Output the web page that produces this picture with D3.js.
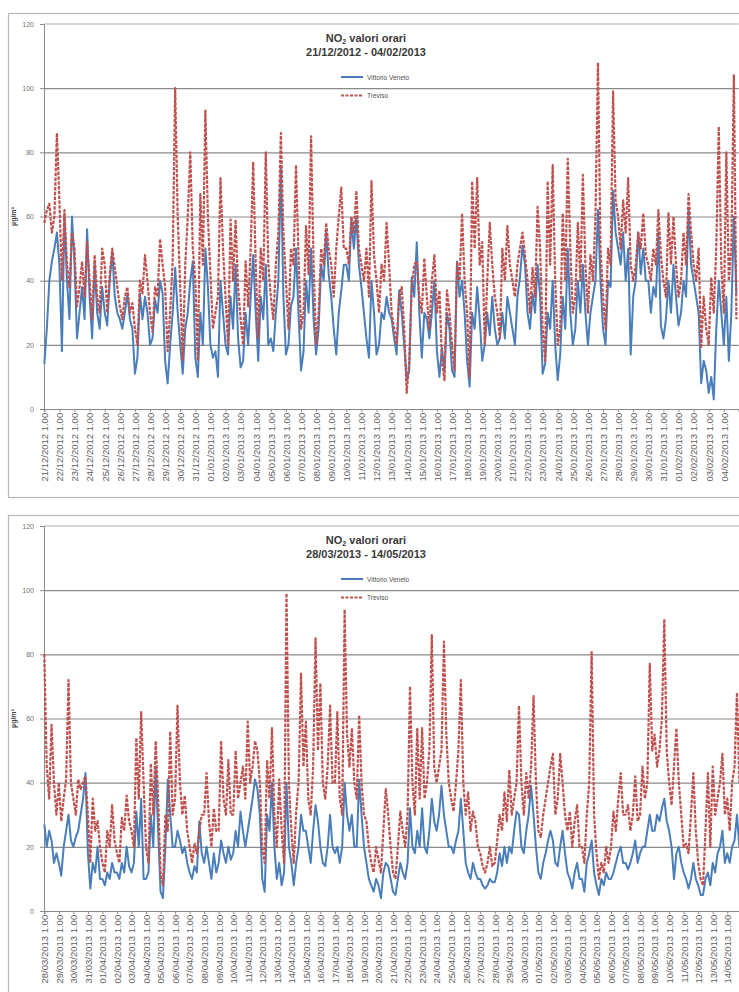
<!DOCTYPE html>
<html>
<head>
<meta charset="utf-8">
<script src="https://cdn.jsdelivr.net/npm/d3@7"></script>
<style>
body { margin: 0; background: #fff; }
svg { display: block; font-family: "Liberation Sans", Arial, sans-serif; }
</style>
</head>
<body>
<svg id="chart" width="739" height="992"></svg>
<script>
// hourly NO2 readings, sampled every 4 hours (1.00, 5.00, 9.00, 13.00, 17.00, 21.00)
var datesTop = ["21/12/2012", "22/12/2012", "23/12/2012", "24/12/2012", "25/12/2012", "26/12/2012",
    "27/12/2012", "28/12/2012", "29/12/2012", "30/12/2012", "31/12/2012", "01/01/2013", "02/01/2013",
    "03/01/2013", "04/01/2013", "05/01/2013", "06/01/2013", "07/01/2013", "08/01/2013", "09/01/2013",
    "10/01/2013", "11/01/2013", "12/01/2013", "13/01/2013", "14/01/2013", "15/01/2013", "16/01/2013",
    "17/01/2013", "18/01/2013", "19/01/2013", "20/01/2013", "21/01/2013", "22/01/2013", "23/01/2013",
    "24/01/2013", "25/01/2013", "26/01/2013", "27/01/2013", "28/01/2013", "29/01/2013", "30/01/2013",
    "31/01/2013", "01/02/2013", "02/02/2013", "03/02/2013", "04/02/2013"];

var vittorioTop = [
    14, 25, 40, 46, 50, 55, 45, 18, 60, 40, 28, 60, 45, 22, 30, 38, 28, 56,
    35, 22, 45, 30, 25, 38, 30, 26, 40, 49, 35, 30, 28, 25, 30, 36, 28, 25,
    11, 16, 36, 28, 35, 30, 20, 22, 34, 30, 40, 36, 15, 8, 20, 30, 44, 30,
    20, 11, 25, 30, 40, 46, 16, 10, 30, 20, 50, 38, 20, 16, 18, 10, 40, 30,
    20, 17, 35, 25, 45, 22, 13, 15, 30, 20, 35, 48, 30, 15, 35, 28, 45, 20,
    22, 18, 30, 40, 75, 35, 17, 20, 32, 35, 50, 30, 12, 18, 40, 30, 50, 28,
    17, 25, 45, 40, 55, 42, 35, 25, 17, 30, 37, 45, 45, 40, 59, 50, 60, 45,
    38, 30, 22, 16, 40, 30, 17, 20, 30, 28, 35, 30, 28, 22, 17, 37, 30, 20,
    9, 12, 41, 35, 52, 30, 16, 30, 28, 22, 30, 40, 18, 10, 19, 12, 30, 25,
    12, 10, 46, 35, 40, 30, 15, 7, 30, 25, 38, 28, 15, 20, 30, 23, 35, 25,
    20, 22, 30, 22, 35, 30, 25, 20, 35, 41, 51, 45, 30, 25, 36, 30, 45, 35,
    11, 14, 30, 25, 40, 20, 9, 17, 35, 25, 50, 30, 20, 25, 40, 30, 45, 30,
    20, 30, 35, 40, 62, 40, 25, 20, 40, 38, 68, 55, 50, 45, 55, 40, 50, 17,
    35, 40, 55, 42, 50, 40, 40, 30, 38, 35, 55, 26, 22, 28, 40, 30, 45, 35,
    26, 30, 40, 35, 62, 45, 40, 35, 30, 8, 15, 12, 5, 10, 3, 25, 40, 30,
    20, 35, 15, 30, 60, 36];

var trevisoTop = [
    58, 62, 64, 55, 60, 86, 65, 40, 62, 45, 38, 55, 50, 32, 38, 46, 35, 52,
    40, 28, 48, 35, 30, 50, 45, 30, 42, 50, 44, 38, 32, 28, 35, 38, 30, 33,
    25, 20, 40, 36, 48, 40, 30, 24, 38, 35, 53, 45, 38, 18, 30, 46, 100, 60,
    38, 15, 45, 60, 80, 50, 40, 15, 67, 45, 93, 60, 42, 25, 30, 35, 72, 50,
    35, 20, 59, 40, 59, 38, 28, 20, 46, 32, 50, 77, 45, 22, 50, 40, 80, 45,
    35, 28, 45, 55, 86, 55, 40, 25, 50, 45, 76, 48, 25, 30, 57, 42, 85, 45,
    20, 30, 50, 45, 58, 50, 45, 35, 50, 60, 69, 50, 50, 45, 60, 55, 68, 50,
    45, 40, 50, 35, 71, 48, 40, 30, 45, 40, 58, 45, 30, 25, 20, 35, 38, 25,
    5, 15, 38, 45, 46, 35, 30, 47, 35, 25, 40, 48, 30, 37, 15, 9, 37, 30,
    20, 12, 46, 40, 61, 40, 30, 10, 71, 50, 72, 45, 52, 20, 40, 58, 45, 35,
    30, 22, 50, 40, 57, 45, 40, 35, 45, 50, 55, 48, 40, 30, 44, 35, 63, 50,
    25, 15, 71, 45, 76, 40, 20, 25, 61, 40, 78, 50, 30, 35, 58, 40, 73, 45,
    30, 48, 40, 60, 108, 50, 35, 25, 50, 45, 99, 65, 60, 50, 65, 55, 72, 45,
    40, 45, 55, 50, 61, 48, 45, 40, 50, 45, 62, 48, 40, 35, 61, 45, 60, 45,
    35, 40, 55, 45, 67, 55, 45, 40, 50, 19, 35, 25, 20, 41, 30, 50, 88, 45,
    30, 80, 40, 50, 104, 28];

var datesBottom = ["28/03/2013", "29/03/2013", "30/03/2013", "31/03/2013", "01/04/2013", "02/04/2013",
    "03/04/2013", "04/04/2013", "05/04/2013", "06/04/2013", "07/04/2013", "08/04/2013", "09/04/2013",
    "10/04/2013", "11/04/2013", "12/04/2013", "13/04/2013", "14/04/2013", "15/04/2013", "16/04/2013",
    "17/04/2013", "18/04/2013", "19/04/2013", "20/04/2013", "21/04/2013", "22/04/2013", "23/04/2013",
    "24/04/2013", "25/04/2013", "26/04/2013", "27/04/2013", "28/04/2013", "29/04/2013", "30/04/2013",
    "01/05/2013", "02/05/2013", "03/05/2013", "04/05/2013", "05/05/2013", "06/05/2013", "07/05/2013",
    "08/05/2013", "09/05/2013", "10/05/2013", "11/05/2013", "12/05/2013", "13/05/2013", "14/05/2013"];

var vittorioBottom = [
    27, 20, 25, 22, 15, 18, 15, 11, 20, 25, 30, 22, 20, 23, 25, 30, 35, 43,
    18, 7, 15, 12, 20, 10, 10, 8, 12, 10, 15, 12, 12, 10, 15, 12, 20, 14,
    12, 15, 31, 20, 35, 10, 10, 12, 30, 20, 45, 25, 6, 4, 20, 41, 30, 20,
    20, 25, 22, 18, 20, 15, 12, 10, 14, 12, 28, 18, 15, 20, 15, 10, 18, 12,
    15, 22, 18, 15, 20, 16, 18, 25, 20, 31, 25, 20, 25, 30, 35, 41, 38, 30,
    10, 6, 30, 25, 40, 20, 10, 15, 8, 12, 40, 20, 15, 8, 15, 20, 30, 25,
    25, 20, 15, 25, 33, 28, 20, 15, 14, 20, 30, 20, 18, 20, 15, 20, 40, 30,
    25, 30, 20, 20, 41, 30, 20, 15, 10, 8, 6, 10, 8, 4, 12, 15, 14, 10,
    6, 5, 10, 15, 12, 10, 15, 32, 20, 18, 25, 20, 32, 20, 18, 25, 35, 28,
    25, 30, 39, 30, 25, 20, 20, 18, 22, 25, 35, 25, 15, 12, 10, 15, 12, 10,
    10, 8, 7, 8, 10, 9, 9, 12, 18, 14, 20, 15, 20, 18, 25, 31, 30, 20,
    18, 25, 30, 39, 30, 20, 12, 10, 15, 18, 22, 25, 22, 15, 14, 20, 25, 18,
    12, 10, 7, 12, 15, 10, 10, 6, 15, 18, 22, 12, 8, 5, 10, 8, 12, 10,
    10, 12, 15, 18, 20, 15, 15, 13, 15, 18, 22, 15, 18, 20, 20, 25, 30, 25,
    25, 30, 28, 32, 35, 28, 25, 20, 10, 18, 20, 15, 12, 10, 7, 10, 15, 10,
    8, 5, 5, 10, 12, 8, 15, 12, 18, 20, 25, 15, 18, 15, 20, 22, 30, 20];

var trevisoBottom = [
    80, 45, 35, 58, 40, 30, 40, 28, 35, 41, 72, 40, 35, 30, 41, 38, 40, 42,
    30, 15, 35, 25, 28, 20, 15, 12, 25, 20, 33, 22, 18, 15, 29, 25, 36, 28,
    25, 20, 54, 35, 62, 40, 20, 15, 46, 30, 53, 35, 12, 8, 30, 25, 56, 30,
    35, 64, 40, 30, 36, 25, 20, 15, 21, 18, 25, 30, 30, 43, 28, 20, 32, 25,
    25, 53, 35, 30, 47, 30, 30, 50, 35, 40, 45, 35, 59, 40, 45, 53, 50, 40,
    20, 15, 47, 35, 57, 30, 20, 41, 25, 15, 99, 40, 25, 15, 31, 40, 74, 45,
    59, 35, 30, 45, 85, 50, 71, 40, 35, 45, 64, 40, 40, 62, 35, 30, 94, 55,
    45, 57, 40, 35, 61, 40, 30, 28, 20, 15, 12, 20, 16, 12, 25, 38, 30, 20,
    12, 10, 20, 31, 25, 20, 30, 70, 40, 30, 57, 35, 57, 35, 40, 50, 86, 45,
    40, 45, 50, 84, 55, 40, 35, 31, 40, 50, 72, 40, 30, 37, 25, 31, 28, 20,
    18, 14, 12, 15, 20, 14, 15, 22, 30, 25, 37, 28, 44, 30, 35, 40, 64, 40,
    30, 43, 35, 45, 67, 40, 25, 23, 30, 35, 40, 45, 49, 30, 35, 49, 40, 30,
    25, 31, 20, 28, 33, 20, 20, 15, 30, 40, 81, 30, 18, 10, 15, 12, 20, 15,
    20, 31, 25, 35, 43, 30, 30, 33, 25, 30, 42, 28, 30, 45, 35, 40, 77, 50,
    55, 45, 50, 60, 91, 50, 40, 33, 45, 57, 40, 30, 20, 21, 18, 30, 43, 25,
    15, 10, 8, 25, 43, 20, 45, 30, 35, 40, 49, 30, 35, 25, 40, 45, 68, 40];

var yTicks = [0, 20, 40, 60, 80, 100, 120];
var seriesNames = ["Vittorio Veneto", "Treviso"];
var blue = "#4a7ebb";
var red = "#c0504d";
var hoursPerSample = 4;
var plotLeft = 44;

var svg = d3.select("#chart");

function drawPanel(panel) {
    var g = svg.append("g");
    var hours = panel.dates.length * 24;

    var xScale = d3.scaleLinear().domain([0, hours]).range([plotLeft, panel.plotRight]);
    var yScale = d3.scaleLinear().domain([0, 120]).range([panel.plotBottom, panel.plotTop]);

    // outer chart border
    g.append("rect")
        .attr("x", 8.5)
        .attr("y", panel.boxTop + 0.5)
        .attr("width", 780)
        .attr("height", panel.boxBottom - panel.boxTop)
        .attr("fill", "#fff")
        .attr("stroke", "#b8b8b8")
        .attr("stroke-width", 1.2);

    // horizontal gridlines
    g.append("g")
        .attr("class", "grid")
        .attr("transform", "translate(" + plotLeft + ",0)")
        .call(d3.axisLeft(yScale).tickValues([20, 40, 60, 80, 100])
            .tickSize(-(panel.plotRight - plotLeft))
            .tickFormat(""))
        .call(function (s) {
            s.select(".domain").remove();
            s.selectAll("line").attr("stroke", "#8a8a8a").attr("stroke-width", 1.2);
        });

    g.append("line")
        .attr("x1", plotLeft).attr("x2", panel.plotRight)
        .attr("y1", yScale(120)).attr("y2", yScale(120))
        .attr("stroke", "#d4d4d4")
        .attr("stroke-width", 2);

    // y axis
    g.append("g")
        .attr("class", "y axis")
        .attr("transform", "translate(" + plotLeft + ",0)")
        .call(d3.axisLeft(yScale).tickValues(yTicks).tickSize(4).tickPadding(6))
        .call(function (s) {
            s.select(".domain").attr("stroke", "#8a8a8a");
            s.selectAll("line").attr("stroke", "#8a8a8a");
            s.selectAll("text")
                .attr("fill", "#707070")
                .style("font-size", "7px");
        });

    g.append("text")
        .attr("transform", "translate(16," + ((panel.plotTop + panel.plotBottom) / 2) + ") rotate(-90)")
        .attr("text-anchor", "middle")
        .attr("fill", "#404040")
        .style("font-size", "7px")
        .style("font-weight", "bold")
        .text("µg/m³");

    // x axis, one label per day at 1.00
    var dayStarts = panel.dates.map(function (d, i) {
        return i * 24 + 0.5;
    });

    g.append("g")
        .attr("class", "x axis")
        .attr("transform", "translate(0," + panel.plotBottom + ")")
        .call(d3.axisBottom(xScale).tickValues(dayStarts).tickSize(3)
            .tickFormat(function (d, i) {
                return panel.dates[i] + " 1.00";
            }))
        .call(function (s) {
            s.select(".domain").attr("stroke", "#8a8a8a").attr("stroke-width", 1.2);
            s.selectAll("line").attr("stroke", "#8a8a8a");
            s.selectAll("text")
                .attr("fill", "#606060")
                .style("font-size", "9.5px")
                .style("text-anchor", "end")
                .attr("x", 0)
                .attr("y", 0)
                .attr("dx", "-0.4em")
                .attr("dy", "0.35em")
                .attr("transform", "rotate(-90)");
        });

    // series
    var line = d3.line()
        .x(function (d, i) {
            return xScale(i * hoursPerSample + 0.5);
        })
        .y(function (d) {
            return yScale(d);
        });

    g.append("path")
        .datum(panel.vittorio)
        .attr("d", line)
        .attr("fill", "none")
        .attr("stroke", blue)
        .attr("stroke-width", 2)
        .attr("stroke-linejoin", "round");

    g.append("path")
        .datum(panel.treviso)
        .attr("d", line)
        .attr("fill", "none")
        .attr("stroke", red)
        .attr("stroke-width", 2.2)
        .attr("stroke-dasharray", "3.5,1.3")
        .attr("stroke-linejoin", "round");

    // title
    var cx = 366;
    var title = g.append("text")
        .attr("x", cx)
        .attr("y", panel.plotTop + 18)
        .attr("text-anchor", "middle")
        .attr("fill", "#3a3a3a")
        .style("font-size", "11px")
        .style("font-weight", "bold");
    title.append("tspan").text("NO");
    title.append("tspan").style("font-size", "7px").attr("dy", 2).text("2");
    title.append("tspan").attr("dy", -2).text(" valori orari");

    g.append("text")
        .attr("x", cx)
        .attr("y", panel.plotTop + 32)
        .attr("text-anchor", "middle")
        .attr("fill", "#3a3a3a")
        .style("font-size", "11px")
        .style("font-weight", "bold")
        .text(panel.dates[0] + " - " + panel.dates[panel.dates.length - 1]);

    // legend
    var legend = g.append("g").attr("class", "legend");
    seriesNames.forEach(function (name, i) {
        var ly = panel.plotTop + 53 + i * 18.5;
        legend.append("line")
            .attr("x1", 341).attr("x2", 363)
            .attr("y1", ly).attr("y2", ly)
            .attr("stroke", i === 0 ? blue : red)
            .attr("stroke-width", 2)
            .attr("stroke-dasharray", i === 0 ? null : "3,1.5");
        legend.append("text")
            .attr("x", 367)
            .attr("y", ly + 2.5)
            .attr("fill", "#505050")
            .style("font-size", "6.5px")
            .text(name);
    });
}

drawPanel({
    dates: datesTop,
    vittorio: vittorioTop,
    treviso: trevisoTop,
    boxTop: 13,
    boxBottom: 497,
    plotTop: 24,
    plotBottom: 409,
    plotRight: 738.6
});

drawPanel({
    dates: datesBottom,
    vittorio: vittorioBottom,
    treviso: trevisoBottom,
    boxTop: 515,
    boxBottom: 1010,
    plotTop: 526,
    plotBottom: 911,
    plotRight: 741.5
});
</script>
</body>
</html>
